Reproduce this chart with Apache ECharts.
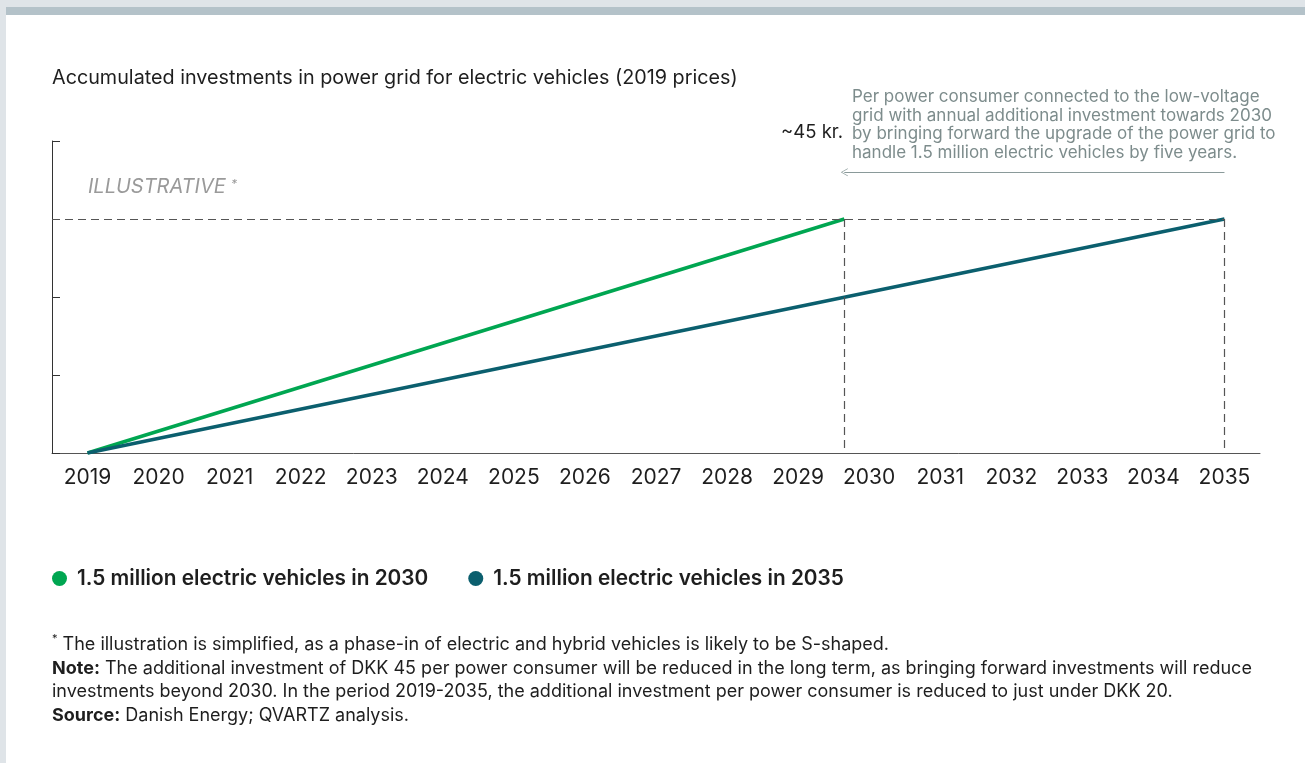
<!DOCTYPE html>
<html>
<head>
<meta charset="utf-8">
<script src="https://cdn.jsdelivr.net/npm/echarts@6/dist/echarts.min.js"></script>
<style>
  html, body { margin: 0; padding: 0; background: #dfe4e8; }
  #chart { width: 1305px; height: 763px; }
</style>
</head>
<body>
<div id="chart"></div>
<script>
// Year labels along the horizontal axis
const yearLabels = ['2019','2020','2021','2022','2023','2024','2025','2026','2027','2028','2029','2030','2031','2032','2033','2034','2035'];

// Accumulated investment per power consumer (kr.), straight-line build-up
const years2030 = [2019, 2029.65];
const values2030 = [0, 45];
const years2035 = [2019, 2035];
const values2035 = [0, 45];

const seriesNames = ['1.5 million electric vehicles in 2030', '1.5 million electric vehicles in 2035'];
const targetValue = 45;
const arrowLevel = 54;

const FONT = 'Inter, "Noto Sans", sans-serif';
const GREEN = '#00a651';
const TEAL = '#0b5f6e';

const chart = echarts.init(document.getElementById('chart'), null, { renderer: 'canvas' });

const pairs = (xs, ys) => xs.map((x, i) => [x, ys[i]]);

const dashStyle = { color: '#555', width: 1.2, type: [8, 5] };

chart.setOption({
  backgroundColor: '#dfe4e8',
  animation: false,
  textStyle: { fontFamily: FONT },
  graphic: [
    { type: 'rect', z: -10, shape: { x: 6, y: 7, width: 1299, height: 8 }, style: { fill: '#b4c2c9' } },
    { type: 'rect', z: -10, shape: { x: 6, y: 15, width: 1299, height: 748 }, style: { fill: '#ffffff' } },
    { type: 'text', left: 52, top: 68, style: { text: 'Accumulated investments in power grid for electric vehicles (2019 prices)', font: '19.75px ' + FONT, fill: '#1e1e1e' } },
    { type: 'text', left: 88, top: 177, style: { text: 'ILLUSTRATIVE', font: 'italic 20px ' + FONT, fill: '#9a9a9a' } },
    { type: 'text', left: 231, top: 178, style: { text: '*', font: 'italic 12px ' + FONT, fill: '#9a9a9a' } },
    { type: 'text', right: 1305 - 843, top: 123, style: { text: '~45 kr.', font: '18.5px ' + FONT, fill: '#1e1e1e', align: 'right' } },
    { type: 'text', left: 852, top: 88, style: {
        text: 'Per power consumer connected to the low-voltage\ngrid with annual additional investment towards 2030\nby bringing forward the upgrade of the power grid to\nhandle 1.5 million electric vehicles by five years.',
        font: '17px ' + FONT, fill: '#7d8c8c', lineHeight: 18.4 } },
    { type: 'text', left: 52, top: 633, style: {
        rich: {
          sup: { fontSize: 11, verticalAlign: 'top', fill: '#1e1e1e', fontFamily: FONT, lineHeight: 23.5 },
          n: { fontSize: 18, fill: '#1e1e1e', fontFamily: FONT, lineHeight: 23.5 },
          b: { fontSize: 18, fill: '#1e1e1e', fontFamily: FONT, fontWeight: 700, lineHeight: 23.5 }
        },
        text: '{sup|*}{n| The illustration is simplified, as a phase-in of electric and hybrid vehicles is likely to be S-shaped.}\n' +
              '{b|Note:}{n| The additional investment of DKK 45 per power consumer will be reduced in the long term, as bringing forward investments will reduce}\n' +
              '{n|investments beyond 2030. In the period 2019-2035, the additional investment per power consumer is reduced to just under DKK 20.}\n' +
              '{b|Source:}{n| Danish Energy; QVARTZ analysis.}'
      } }
  ],
  legend: {
    left: 47, top: 563,
    icon: 'circle', itemWidth: 15, itemHeight: 15, itemGap: 40,
    textStyle: { fontSize: 20.8, fontWeight: 600, color: '#1e1e1e', fontFamily: FONT, padding: [0, 0, 0, 5] },
    data: seriesNames
  },
  grid: { left: 52, right: 45, top: 141, bottom: 310, containLabel: false },
  xAxis: [
    {
      type: 'category', data: yearLabels, boundaryGap: true,
      axisLine: { show: true, lineStyle: { color: '#555', width: 1 } },
      axisTick: { show: false },
      axisLabel: { fontSize: 21, color: '#1e1e1e', margin: 14, fontFamily: FONT },
      splitLine: { show: false }
    },
    { type: 'value', min: 2018.5, max: 2035.5, show: false }
  ],
  yAxis: {
    type: 'value', min: 0, max: 60, interval: 15,
    axisLine: { show: true, lineStyle: { color: '#333', width: 1 } },
    axisTick: { show: true, inside: true, length: 8, lineStyle: { color: '#333' } },
    axisLabel: { show: false },
    splitLine: { show: false }
  },
  series: [
    {
      name: seriesNames[0], type: 'line', xAxisIndex: 1,
      data: pairs(years2030, values2030),
      symbol: 'none', color: GREEN,
      lineStyle: { color: GREEN, width: 3.5 },
      z: 3,
      markLine: {
        silent: true, symbol: 'none', label: { show: false },
        lineStyle: dashStyle,
        data: [
          [{ coord: [2018.5, targetValue] }, { coord: [years2035[1], targetValue] }],
          [{ coord: [years2030[1], targetValue] }, { coord: [years2030[1], 0] }],
          [{ coord: [years2035[1], targetValue] }, { coord: [years2035[1], 0] }]
        ]
      }
    },
    {
      name: seriesNames[1], type: 'line', xAxisIndex: 1,
      data: pairs(years2035, values2035),
      symbol: 'none', color: TEAL,
      lineStyle: { color: TEAL, width: 3.5 },
      z: 4,
      markLine: {
        silent: true,
        // open chevron arrowhead (drawn pointing up, rotated along the line)
        symbol: ['none', 'path://M0,10 L5,0 L10,10 L9,10 L5,1.8 L1,10 Z'],
        symbolSize: [8, 7],
        label: { show: false },
        lineStyle: { color: '#8a9a9a', width: 1, type: 'solid' },
        data: [
          [{ coord: [years2035[1], arrowLevel] }, { coord: [years2030[1], arrowLevel] }]
        ]
      }
    }
  ]
});
</script>
</body>
</html>
